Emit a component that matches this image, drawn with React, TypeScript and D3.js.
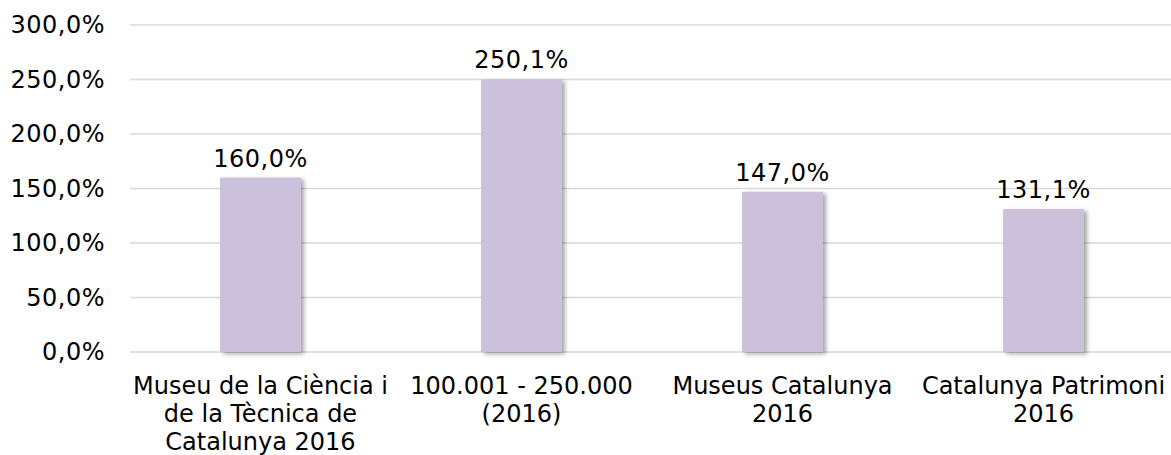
import React from "react";
import * as d3 from "d3";

const categories: string[][] = [
  ["Museu de la Ciència i", "de la Tècnica de", "Catalunya 2016"],
  ["100.001 - 250.000", "(2016)"],
  ["Museus Catalunya", "2016"],
  ["Catalunya Patrimoni", "2016"],
];
const values: number[] = [160.0, 250.1, 147.0, 131.1];
const yTicks: number[] = [0, 50, 100, 150, 200, 250, 300];

const W = 1171;
const H = 455;
const FONT = "'DejaVu Sans', Verdana, sans-serif";
const FS = 24;
const fmt = (v: number) => d3.format(".1f")(v).replace(".", ",") + "%";

export default function App() {
  const keys = categories.map((c) => c.join(" "));
  const x = d3.scaleBand<string>().domain(keys).range([130, 1174]).paddingInner(0.69).paddingOuter(0.345);
  const y = d3.scaleLinear().domain([0, 300]).range([352, 25]);

  return (
    <svg width={W} height={H} style={{ position: "absolute", left: 0, top: 0, background: "#fff" }} fontFamily={FONT}>
      <defs>
        <filter id="sh" x="-20%" y="-5%" width="150%" height="115%">
          <feDropShadow dx="3" dy="2" stdDeviation="2" floodColor="#000" floodOpacity="0.35" />
        </filter>
      </defs>
      {yTicks.map((t) => (
        <g key={t}>
          <line x1={130} x2={W} y1={y(t)} y2={y(t)} stroke="#d9d9d9" strokeWidth={1.5} />
          <text x={105} y={y(t)} dy="0.35em" textAnchor="end" fontSize={FS} fill="#000" letterSpacing={0.5}>
            {fmt(t)}
          </text>
        </g>
      ))}
      {values.map((v, i) => {
        const bx = x(keys[i])!;
        const bw = x.bandwidth();
        return (
          <g key={i}>
            <rect x={bx} y={y(v)} width={bw} height={y(0) - y(v)} fill="#cbc1db" filter="url(#sh)" />
            <text x={bx + bw / 2} y={y(v) - 11} textAnchor="middle" fontSize={FS} fill="#000" letterSpacing={0.5}>
              {fmt(v)}
            </text>
          </g>
        );
      })}
      {categories.map((lines, i) => (
        <text key={i} textAnchor="middle" fontSize={FS} fill="#000">
          {lines.map((l, j) => (
            <tspan key={j} x={x(keys[i])! + x.bandwidth() / 2} y={394 + j * 28}>
              {l}
            </tspan>
          ))}
        </text>
      ))}
    </svg>
  );
}
